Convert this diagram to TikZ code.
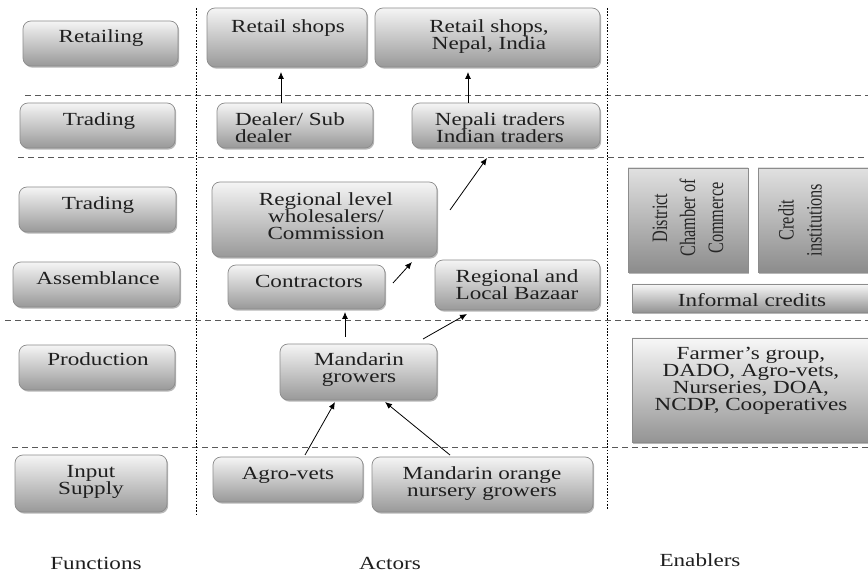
\documentclass[tikz,border=0pt]{standalone}
\usepackage{fontspec}
\setmainfont{Liberation Serif}[FakeStretch=1.25]
\newfontfamily\rotfont{Liberation Serif}[FakeStretch=0.74]
\usetikzlibrary{shadows,arrows.meta}
\newcommand\bx[6]{\node[#1, minimum width={#5-#3}, minimum height={#6-#4}] (#2) at ({(#3+#5)/2},{(#4+#6)/2}) {};}
\begin{document}
\lineskiplimit=-30pt
\begin{tikzpicture}[x=1pt,y=-1pt,
  every node/.style={inner sep=0pt, outer sep=0pt},
  shd/.style={drop shadow={shadow xshift=1.2pt,shadow yshift=-1.6pt,fill=black!40,opacity=0.7}},
  rbox/.style={shd, draw=black!45, line width=0.7pt, rounded corners=8pt, top color=black!4, bottom color=black!40},
  sqbox/.style={shd, draw=black!45, line width=0.7pt, top color=black!12, bottom color=black!45},
  lbox/.style={shd, draw=black!45, line width=0.7pt, top color=black!3, bottom color=black!42},
  txt/.style={font=\fontsize{18.5}{17}\selectfont, align=center, anchor=north, text=black!88},
  rtxt/.style={font=\rotfont\fontsize{22}{28}\selectfont, align=center, rotate=90, text=black!85},
  lbl/.style={font=\fontsize{18.5}{17}\selectfont, text=black!88},
  hline/.style={draw=black!65, line width=0.8pt, dash pattern=on 6pt off 4pt},
  vline/.style={draw=black, line width=1pt, dash pattern=on 1.6pt off 1.6pt},
  arr/.style={draw=black, line width=0.8pt, -{Latex[length=7pt,width=6pt]}}]
\fill[white] (0,0) rectangle (868,577);
\useasboundingbox (0,0) rectangle (868,577);

% separators
\draw[hline] (25,95) -- (868,95);
\draw[hline] (18,157) -- (868,157);
\draw[hline] (5,320) -- (868,320);
\draw[hline] (12,447) -- (868,447);
\draw[vline] (196,8) -- (196,515);
\draw[vline] (607,8) -- (607,510);

% functions
\bx{rbox}{fRet}{23}{21}{178}{66}
\bx{rbox}{fTrA}{20}{103}{175}{148}
\bx{rbox}{fTrB}{19}{187}{176}{232}
\bx{rbox}{fAss}{13}{262}{180}{307}
\bx{rbox}{fPro}{19}{345}{175}{390}
\bx{rbox}{fInp}{15}{455}{167}{512}
\node[txt] (tRet) at (101,30) {Retailing};
\node[txt] (tTrA) at (99,113) {Trading};
\node[txt] (tTrB) at (98,197) {Trading};
\node[txt] (tAss) at (98,272) {Assemblance};
\node[txt] (tPro) at (98,353) {Production};
\node[txt] (tInp) at (91,465) {Input\\Supply};

% actors
\bx{rbox}{rs1}{207}{8}{367}{67}
\bx{rbox}{rs2}{375}{8}{600}{67}
\bx{rbox}{deal}{217}{103}{373}{148}
\bx{rbox}{nep}{412}{103}{600}{148}
\bx{rbox}{reg}{212}{182}{437}{257}
\bx{rbox}{con}{228}{265}{385}{309}
\bx{rbox}{baz}{435}{260}{600}{310}
\bx{rbox}{mg}{280}{344}{437}{400}
\bx{rbox}{agro}{213}{457}{363}{502}
\bx{rbox}{nur}{372}{457}{593}{512}
\node[txt] (trs1) at (288,20) {Retail shops};
\node[txt] (trs2) at (489,20) {Retail shops,\\Nepal, India};
\node[txt, align=left, anchor=north west] (tdeal) at (235,113) {Dealer/ Sub\\dealer};
\node[txt] (tnep) at (500,113) {Nepali traders\\Indian traders};
\node[txt] (treg) at (326,193) {Regional level\\wholesalers/\\Commission};
\node[txt] (tcon) at (309,275) {Contractors};
\node[txt] (tbaz) at (517,270) {Regional and\\Local Bazaar};
\node[txt] (tmg) at (359,353) {Mandarin\\growers};
\node[txt] (tagro) at (288,467) {Agro-vets};
\node[txt] (tnur) at (482,467) {Mandarin orange\\nursery growers};

% enablers
\bx{sqbox}{dis}{628}{168}{748}{272}
\bx{sqbox}{cre}{758}{168}{875}{272}
\bx{lbox}{inf}{632}{284}{875}{312}
\bx{lbox}{far}{632}{338}{875}{442}
\node[rtxt] (tdis) at (688,218) {District\\Chamber of\\Commerce};
\node[rtxt] (tcre) at (800,220) {Credit\\institutions};
\node[txt] (tinf) at (752,293) {Informal credits};
\node[txt] (tfar) at (751,347) {Farmer's group,\\DADO, Agro-vets,\\Nurseries, DOA,\\NCDP, Cooperatives};

% arrows
\draw[arr] ([xshift=-14pt]deal.north) -- ([xshift=-6pt,yshift=-5pt]rs1.south);
\draw[arr] ([xshift=-38pt]nep.north) -- ([xshift=-19.5pt,yshift=-5pt]rs2.south);
\draw[arr] ([xshift=13pt,yshift=-28pt]reg.north east) -- ([xshift=-19pt,yshift=-10pt]nep.south);
\draw[arr] ([xshift=8pt,yshift=-18pt]con.north east) -- ([xshift=-25pt,yshift=-5pt]reg.south east);
\draw[arr] ([xshift=-13.5pt,yshift=7pt]mg.north) -- ([xshift=38.5pt,yshift=-3pt]con.south);
\draw[arr] ([xshift=-14pt,yshift=5pt]mg.north east) -- ([xshift=32pt,yshift=-4pt]baz.south west);
\draw[arr] ([xshift=17pt,yshift=2pt]agro.north) -- ([xshift=-23.5pt,yshift=-2pt]mg.south);
\draw[arr] ([xshift=-32.5pt,yshift=2pt]nur.north) -- ([xshift=26.5pt,yshift=-2pt]mg.south);

% column labels
\node[lbl] (lfun) at (96,563) {Functions};
\node[lbl] (lact) at (390,563) {Actors};
\node[lbl] (lena) at (700,560) {Enablers};
\end{tikzpicture}
\end{document}
